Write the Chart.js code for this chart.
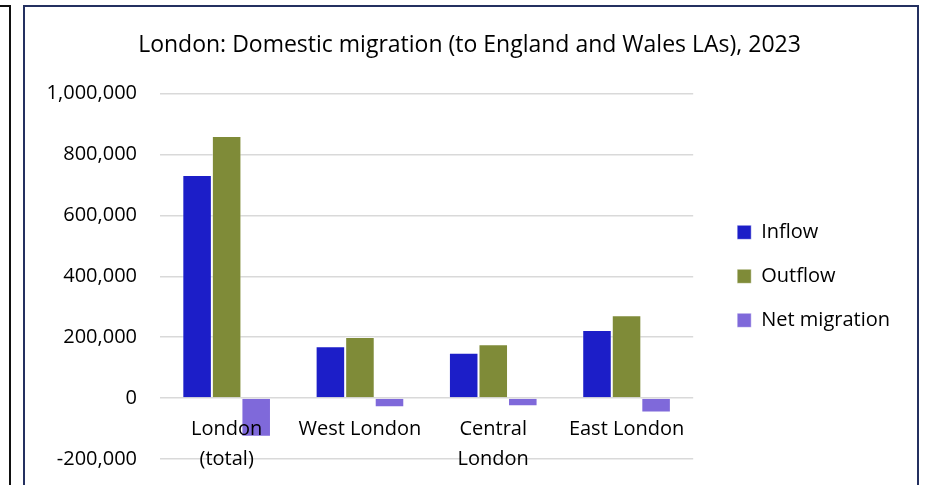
<!DOCTYPE html>
<html>
<head>
<meta charset="utf-8">
<script src="https://cdn.jsdelivr.net/npm/chart.js@4.4.1/dist/chart.umd.min.js"></script>
<style>
  body { margin: 0; background: #fff; overflow: hidden; width: 927px; height: 485px; position: relative; }
  #prev { position: absolute; left: -10px; top: 5px; width: 17px; height: 600px; border: 2px solid #111; }
  #frame { position: absolute; left: 23px; top: 5px; width: 892px; height: 600px; border: 2px solid #243060; }
  #wrap { position: absolute; left: 0; top: 0; width: 892px; height: 487px; }
</style>
</head>
<body>
<div id="prev"></div>
<div id="frame">
  <div id="wrap"><canvas id="myChart"></canvas></div>
</div>
<script>
const categories = [['London', '(total)'], 'West London', ['Central', 'London'], 'East London'];
const inflow = [733000, 170000, 149000, 224000];
const outflow = [861000, 201000, 177000, 272000];
const netMigration = [-127000, -30000, -27000, -47000];
const yMin = -200000;
const yMax = 1000000;
const yStep = 200000;

Chart.defaults.font.family = "'Open Sans', sans-serif";
Chart.defaults.font.size = 20;
Chart.defaults.color = '#000';

// Excel leaves a gap between plot and legend and centres the legend on the plot
const legendGap = {
    id: 'legendGap',
    afterInit(chart) {
        const legend = chart.legend;
        const fit = legend.fit;
        legend.fit = function () {
            fit.call(this);
            this.width += 20;
        };
    },
    afterLayout(chart) {
        const legend = chart.legend;
        legend.left += 20;
        legend.top = chart.chartArea.top;
        legend.bottom = chart.chartArea.bottom;
    }
};

const data = {
    labels: categories,
    datasets: [
        { label: 'Inflow', data: inflow, backgroundColor: '#1c1ec8' },
        { label: 'Outflow', data: outflow, backgroundColor: '#7f8b38' },
        { label: 'Net migration', data: netMigration, backgroundColor: '#7f69da' },
    ]
};

const ctx = document.getElementById('myChart').getContext('2d');
const myChart = new Chart(ctx, {
    type: 'bar',
    data: data,
    plugins: [legendGap],
    options: {
        responsive: true,
        maintainAspectRatio: false,
        animation: false,
        locale: 'en-US',
        layout: {
            padding: { left: 14, right: 17, top: 0, bottom: 0 }
        },
        datasets: {
            bar: {
                categoryPercentage: 0.665,
                barPercentage: 1.0,
                borderWidth: 1,
                borderColor: 'rgba(255,255,255,0.45)'
            }
        },
        plugins: {
            title: {
                display: true,
                text: 'London: Domestic migration (to England and Wales LAs), 2023',
                font: { size: 23, weight: 'normal' },
                color: '#000',
                padding: { top: 25, bottom: 34 }
            },
            legend: {
                position: 'right',
                labels: {
                    boxWidth: 14,
                    boxHeight: 14,
                    padding: 24,
                    font: { size: 20 }
                }
            },
            tooltip: { enabled: false }
        },
        scales: {
            x: {
                position: { y: 0 },
                grid: { display: false, drawTicks: false },
                border: { display: false },
                ticks: {
                    z: 1,
                    padding: 16,
                    maxRotation: 0,
                    font: { size: 20, lineHeight: 1.5 }
                }
            },
            y: {
                min: yMin,
                max: yMax,
                grid: { color: '#d9d9d9', lineWidth: 1.5, drawTicks: false },
                border: { display: false },
                ticks: {
                    stepSize: yStep,
                    padding: 23,
                    font: { size: 20 }
                },
                afterFit: function (scale) {
                    scale.width = 121;
                }
            }
        }
    }
});
</script>
</body>
</html>
